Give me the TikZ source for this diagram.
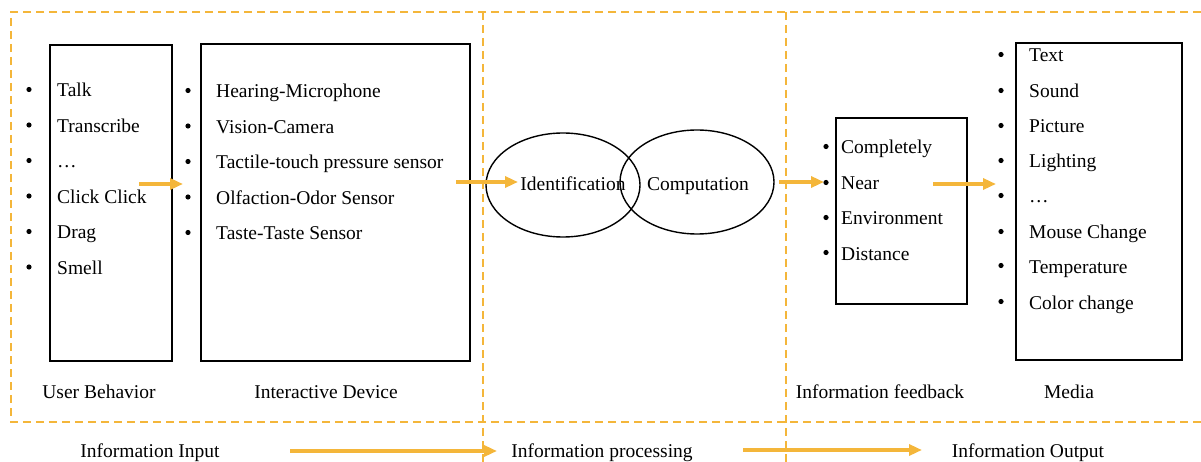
\documentclass[tikz,border=0pt]{standalone}
\usepackage{fontspec}
\setmainfont{Liberation Serif}
\usetikzlibrary{arrows.meta,shapes.geometric}
\definecolor{orng}{HTML}{F4B63A}
\tikzset{
  txt/.style={anchor=base west,inner sep=0pt,font=\fontsize{19.5}{22}\selectfont},
  lbl/.style={anchor=base,inner sep=0pt,font=\fontsize{19.5}{22}\selectfont},
  box/.style={draw,line width=1.5pt,anchor=north west,inner sep=0pt,outer sep=0pt},
  divider/.style={draw=orng,line width=1.3pt,dash pattern=on 8pt off 5pt},
  flow/.style={draw=orng,line width=3.2pt,-{Triangle[length=13pt,width=11pt]}},
  oval/.style={draw,line width=1.4pt,ellipse,inner sep=0pt,minimum width=154pt,minimum height=104pt}
}
\newcommand{\bul}[4][28]{\fill (#2,#3-7.5) circle (2.6);\node[txt] at (#2+#1,#3) {#4};}
\begin{document}
\begin{tikzpicture}[x=1pt,y=-1pt]
\useasboundingbox (0,0) rectangle (1201,462);
% dashed frame
\draw[divider] (1201,12) -- (11,12) -- (11,422) -- (1201,422);
\draw[divider] (483,12) -- (483,462);
\draw[divider] (786,12) -- (786,462);
% boxes
\node[box,minimum width=122pt,minimum height=316pt] (ub) at (50,45) {};
\node[box,minimum width=269pt,minimum height=317pt] (id) at (201,44) {};
\node[box,minimum width=131pt,minimum height=186pt] (fb) at (836,118) {};
\node[box,minimum width=166pt,minimum height=317pt] (me) at (1016,43) {};
% user behavior items
\bul{29}{97}{Talk}
\bul{29}{132.5}{Transcribe}
\bul{29}{168}{\dots}
\bul{29}{203.5}{Click Click}
\bul{29}{239}{Drag}
\bul{29}{274.5}{Smell}
% device items
\bul{188}{98}{Hearing-Microphone}
\bul{188}{133.5}{Vision-Camera}
\bul{188}{169}{Tactile-touch pressure sensor}
\bul{188}{204.5}{Olfaction-Odor Sensor}
\bul{188}{240}{Taste-Taste Sensor}
% ellipses
\node[oval] (e1) at (563,185) {};
\node[oval] (e2) at (697,182) {};
\node[lbl] (ident) at (573,191) {Identification};
\node[lbl] (comp) at (698,191) {Computation};
% feedback items
\bul[15]{826}{154}{Completely}
\bul[15]{826}{190}{Near}
\bul[15]{826}{225}{Environment}
\bul[15]{826}{260}{Distance}
% media items
\bul{1001}{62}{Text}
\bul{1001}{98}{Sound}
\bul{1001}{133}{Picture}
\bul{1001}{168}{Lighting}
\bul{1001}{203}{\dots}
\bul{1001}{239}{Mouse Change}
\bul{1001}{273}{Temperature}
\bul{1001}{309}{Color change}
% labels
\node[lbl] (lub) at (99,398) {User Behavior};
\node[lbl] (lid) at (326,398) {Interactive Device};
\node[lbl] (lif) at (880,398) {Information feedback};
\node[lbl] (lme) at (1069,398) {Media};
\node[lbl] (lin) at (150,457) {Information Input};
\node[lbl] (lpr) at (602,457) {Information processing};
\node[lbl] (lout) at (1028,457) {Information Output};
% arrows
\coordinate (a1s) at (139,184); \coordinate (a1e) at (183,184);
\coordinate (a2s) at (456,182); \coordinate (a2e) at (518,182);
\coordinate (a3s) at (779,182); \coordinate (a3e) at (824,182);
\coordinate (a4s) at (933,184); \coordinate (a4e) at (996,184);
\coordinate (b1s) at (290,451); \coordinate (b1e) at (497,451);
\coordinate (b2s) at (743,450); \coordinate (b2e) at (922,450);
\draw[flow] (a1s) -- (a1e);
\draw[flow] (a2s) -- (a2e);
\draw[flow] (a3s) -- (a3e);
\draw[flow] (a4s) -- (a4e);
\draw[flow] (b1s) -- (b1e);
\draw[flow] (b2s) -- (b2e);
\end{tikzpicture}
\end{document}
